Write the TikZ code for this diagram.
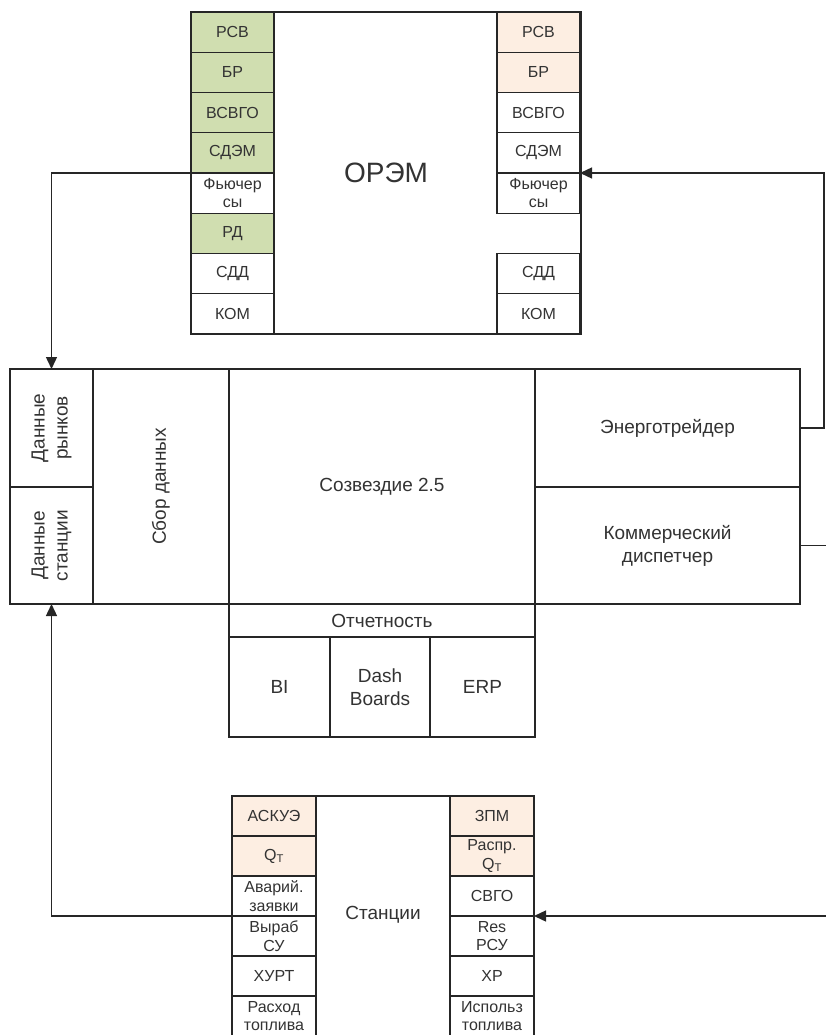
\documentclass[tikz,border=0pt]{standalone}
\usepackage{fontspec}
\setmainfont{Liberation Sans}
\usetikzlibrary{arrows.meta, positioning}
\definecolor{mktgreen}{RGB}{208,222,176}
\definecolor{ownpeach}{RGB}{253,238,226}
\newcommand{\cellfont}{\fontsize{16}{18.5}\selectfont}
\newcommand{\blockfont}{\fontsize{19}{23}\selectfont}
\tikzset{
  box/.style={
    draw=black!85, line width=1.2pt, fill=white, inner sep=0pt, outer sep=0pt,
    anchor=north west, align=center, text=black!80
  },
  cell/.style={box, minimum width=83, minimum height=40, font=\cellfont},
  block/.style={box, font=\blockfont},
  flow/.style={line width=1.4pt, draw=black!85, -{Triangle[length=12pt,width=11pt]}},
  wire/.style={line width=1.4pt, draw=black!85}
}

\begin{document}
\begin{tikzpicture}[x=1pt, y=-1pt]
  \useasboundingbox (0,0) rectangle (826,1035);

  % ORЭM block
  \node[box, minimum width=390, minimum height=322, font=\fontsize{28}{32}\selectfont] (orem) at (191,12) {ОРЭМ};
  \foreach \i/\txt/\col in {1/РСВ/mktgreen, 2/БР/mktgreen, 3/ВСВГО/mktgreen, 4/СДЭМ/mktgreen,
                            5/{Фьючер\\сы}/white, 6/РД/mktgreen, 7/СДД/white, 8/КОМ/white} {
    \node[cell, fill=\col, minimum height=40.25] (ol\i) at (191,{12+(\i-1)*40.25}) {\txt};
  }
  \foreach \i/\txt/\col in {1/РСВ/ownpeach, 2/БР/ownpeach, 3/ВСВГО/white, 4/СДЭМ/white,
                            5/{Фьючер\\сы}/white, 7/СДД/white, 8/КОМ/white} {
    \node[cell, fill=\col, minimum height=40.25] (or\i) at (497,{12+(\i-1)*40.25}) {\txt};
  }

  % central system
  \node[block, minimum width=83, minimum height=118] (mkt) at (10,369)
    {\rotatebox{90}{\begin{tabular}{@{}c@{}}Данные\\рынков\end{tabular}}};
  \node[block, minimum width=83, minimum height=117] (stn) at (10,487)
    {\rotatebox{90}{\begin{tabular}{@{}c@{}}Данные\\станции\end{tabular}}};
  \node[block, minimum width=136, minimum height=235] (sbor) at (93,369)
    {\rotatebox{90}{Сбор данных}};
  \node[block, minimum width=306, minimum height=235] (soz) at (229,369) {Созвездие 2.5};
  \node[block, minimum width=265, minimum height=118] (trader) at (535,369) {Энерготрейдер};
  \node[block, minimum width=265, minimum height=117] (disp) at (535,487) {Коммерческий\\диспетчер};

  % reporting
  \node[block, minimum width=306, minimum height=33] (otch) at (229,604) {Отчетность};
  \node[block, minimum width=101, minimum height=100] (bi) at (229,637) {BI};
  \node[block, minimum width=100, minimum height=100] (dash) at (330,637) {Dash\\Boards};
  \node[block, minimum width=105, minimum height=100] (erp) at (430,637) {ERP};

  % stations
  \node[box, minimum width=302, minimum height=260] (st) at (232,796) {};
  \node[font=\blockfont, text=black!80] (sttxt) at (383,915) {Станции};
  \foreach \i/\txt/\col in {1/АСКУЭ/ownpeach, 2/Q\textsubscript{Т}/ownpeach, 3/{Аварий.\\заявки}/white,
                            4/{Выраб\\СУ}/white, 5/ХУРТ/white, 6/{Расход\\топлива}/white} {
    \node[cell, fill=\col, minimum width=84] (sl\i) at (232,{796+(\i-1)*40}) {\txt};
  }
  \foreach \i/\txt/\col in {1/ЗПМ/ownpeach, 2/{Распр.\\Q\textsubscript{Т}}/ownpeach, 3/СВГО/white,
                            4/{Res\\РСУ}/white, 5/ХР/white, 6/{Использ\\топлива}/white} {
    \node[cell, fill=\col, minimum width=84] (sr\i) at (450,{796+(\i-1)*40}) {\txt};
  }

  % connectors
  \coordinate (hook) at (824,428);
  \coordinate (dispout) at (826,545.5);
  \coordinate (stin) at (826,916);
  \draw[flow] (ol5.north west) -| (mkt.north);
  \draw[flow] (trader.east) -- (hook) |- (or5.north east);
  \draw[wire] (disp.east) -- (dispout);
  \draw[flow] (sl4.north west) -| (stn.south);
  \draw[flow] (stin) -- (sr4.north east);
\end{tikzpicture}
\end{document}
